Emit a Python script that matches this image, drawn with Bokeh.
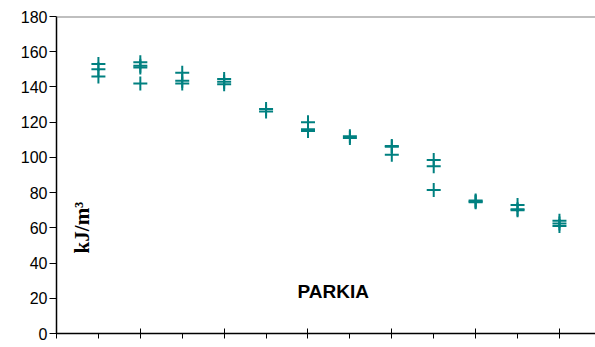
import math
from bokeh.plotting import figure
from bokeh.models import Range1d, FixedTicker, Span, Label, CustomJSTickFormatter
from bokeh.embed import file_html
from bokeh.resources import INLINE

# Data (sample index, energy kJ/m3)
sample = [1, 1, 1,
          2, 2, 2, 2,
          3, 3, 3,
          4, 4, 4,
          5, 5,
          6, 6, 6,
          7, 7,
          8, 8, 8,
          9, 9, 9,
          10, 10, 10,
          11, 11, 11,
          12, 12, 12]
energy = [153, 150, 146,
          154, 152, 151, 142,
          148, 143.5, 142,
          144.5, 143, 141.5,
          127.5, 126,
          120, 116, 115,
          112, 111,
          106.5, 106, 101.5,
          98.5, 95, 81.5,
          75.5, 75, 74.5,
          73, 70.5, 70,
          64, 62.5, 61]
y_ticks = [0, 20, 40, 60, 80, 100, 120, 140, 160, 180]
x_major = [0, 2, 4, 6, 8, 10, 12]
x_minor = [1, 3, 5, 7, 9, 11, 13]

p = figure(width=595, height=347, output_backend="svg", toolbar_location=None,
           x_range=Range1d(0, 12.86), y_range=Range1d(0, 180),
           min_border_left=56, min_border_right=0, min_border_top=16,
           min_border_bottom=14)
p.grid.visible = False
p.outline_line_color = None
p.background_fill_color = "white"
p.border_fill_color = "white"

p.yaxis.ticker = FixedTicker(ticks=y_ticks)
p.yaxis.major_tick_out = 7
p.yaxis.major_tick_in = 0
p.yaxis.minor_tick_out = 0
p.yaxis.minor_tick_in = 0
p.yaxis.major_label_text_font = "Liberation Sans"
p.yaxis.major_label_text_font_size = "16px"
p.yaxis.major_label_text_color = "black"
p.yaxis.major_label_standoff = 2
p.yaxis.axis_line_width = 1.5
p.yaxis.axis_line_color = "black"
p.yaxis.major_tick_line_color = "black"

p.xaxis.ticker = FixedTicker(ticks=x_major, minor_ticks=x_minor)
p.xaxis.formatter = CustomJSTickFormatter(code="return ''")
p.xaxis.major_tick_in = 5
p.xaxis.major_tick_out = 5
p.xaxis.minor_tick_in = 0
p.xaxis.minor_tick_out = 5
p.xaxis.major_label_standoff = 0
p.xaxis.axis_line_width = 1.5
p.xaxis.axis_line_color = "black"
p.xaxis.major_tick_line_color = "black"
p.xaxis.minor_tick_line_color = "black"

p.add_layout(Span(location=180, dimension="width", line_color="#808080", line_width=2))

p.scatter(sample, energy, marker="cross", size=14, line_color="#008080", line_width=2)

p.add_layout(Label(x=0.60, y=60.2, text="kJ/m³", angle=math.pi / 2,
                   text_font="Liberation Serif", text_font_style="bold",
                   text_font_size="21px", text_align="center",
                   text_baseline="middle", text_color="black"))
p.add_layout(Label(x=5.75, y=23.8, text="PARKIA",
                   text_font="Liberation Sans", text_font_style="bold",
                   text_font_size="19px", text_align="left",
                   text_baseline="middle", text_color="black"))

open("out.html", "w").write(file_html(p, INLINE))
